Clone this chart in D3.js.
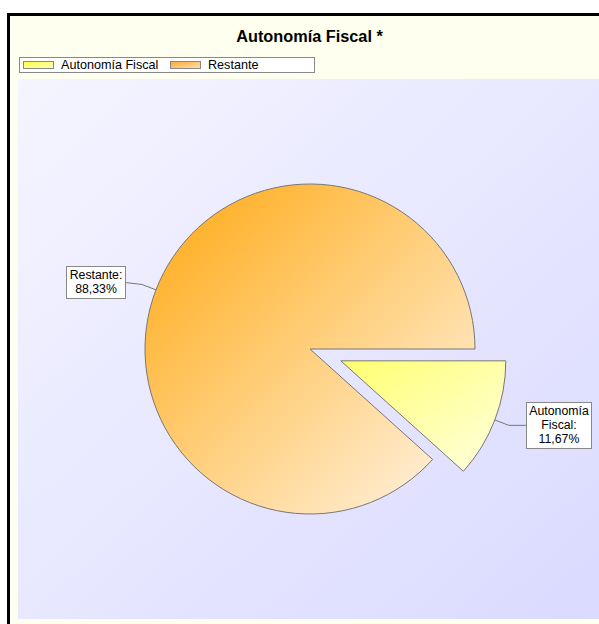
<!DOCTYPE html>
<html>
<head>
<meta charset="utf-8">
<script src="https://cdn.jsdelivr.net/npm/d3@7"></script>
<style>
  body { margin: 0; background: #fff; }
  svg { display: block; font-family: "Liberation Sans", Arial, sans-serif; }
</style>
</head>
<body>
<div id="chart"></div>
<script>
// data
var categories = ['Autonomía Fiscal', 'Restante'];
var values = [11.67, 88.33];
var labelText = ['Autonomía\nFiscal:\n11,67%', 'Restante:\n88,33%'];
var title = 'Autonomía Fiscal *';

var W = 599, H = 624;
var svg = d3.select('#chart').append('svg')
    .attr('width', W)
    .attr('height', H);

var defs = svg.append('defs');

function grad(id, c0, c1) {
    var g = defs.append('linearGradient')
        .attr('id', id)
        .attr('x1', 0).attr('y1', 0)
        .attr('x2', 1).attr('y2', 1);
    g.append('stop').attr('offset', '0%').attr('stop-color', c0);
    g.append('stop').attr('offset', '100%').attr('stop-color', c1);
}
grad('bgGrad', '#f5f5ff', '#dadaff');
grad('g0', '#ffff70', '#ffffe2');
grad('g1', '#ffa810', '#fff6ea');
grad('lg0', '#ffff40', '#ffffc0');
grad('lg1', '#ffa830', '#ffe0b0');

// frame
svg.append('rect')
    .attr('x', 8.5).attr('y', 14.5)
    .attr('width', W + 20).attr('height', H + 20)
    .style('fill', '#fffff0')
    .style('stroke', '#000')
    .style('stroke-width', 3);

// plot area
svg.append('rect')
    .attr('x', 18).attr('y', 79)
    .attr('width', W - 18).attr('height', 540)
    .style('fill', 'url(#bgGrad)');

// title
svg.append('text')
    .attr('x', 309.5).attr('y', 42)
    .attr('text-anchor', 'middle')
    .style('font-size', '16.3px')
    .style('font-weight', 'bold')
    .text(title);

// legend
var legend = svg.append('g');
legend.append('rect')
    .attr('x', 19.5).attr('y', 57.5)
    .attr('width', 295).attr('height', 15)
    .style('fill', '#fff')
    .style('stroke', '#888');
var legX = [23, 170];
categories.forEach(function (c, i) {
    legend.append('rect')
        .attr('x', legX[i] + 0.5).attr('y', 61.5)
        .attr('width', 30).attr('height', 7)
        .style('fill', 'url(#lg' + i + ')')
        .style('stroke', '#888');
    legend.append('text')
        .attr('x', legX[i] + 38).attr('y', 69)
        .style('font-size', '12.6px')
        .text(c);
});

// pie
var cx = 310, cy = 349, r = 165, explode = 33;
var pie = d3.pie().sort(null)
    .startAngle(Math.PI / 2)
    .endAngle(Math.PI / 2 + 2 * Math.PI);
var arcs = pie(values);
var arc = d3.arc().innerRadius(0).outerRadius(r);

var g = svg.append('g').attr('transform', 'translate(' + cx + ',' + cy + ')');

arcs.forEach(function (d, i) {
    var mid = (d.startAngle + d.endAngle) / 2;
    var ux = Math.sin(mid), uy = -Math.cos(mid);
    var off = i === 0 ? explode : 0;
    var ox = ux * off, oy = uy * off;

    g.append('path')
        .attr('d', arc(d))
        .attr('transform', 'translate(' + ox + ',' + oy + ')')
        .style('fill', 'url(#g' + i + ')')
        .style('stroke', '#777')
        .style('stroke-width', 1);

    // leader line
    var p0 = [ox + ux * r, oy + uy * r];
    var p1 = [ox + ux * (r + 15), oy + uy * (r + 15)];
    var dir = ux >= 0 ? 1 : -1;
    var p2 = [p1[0] + dir * 17, p1[1] - (i === 1 ? 2 : 0)];
    g.append('polyline')
        .attr('points', [p0, p1, p2].map(function (p) { return p.join(','); }).join(' '))
        .style('fill', 'none')
        .style('stroke', '#777');

    var lines = labelText[i].split('\n');
    var lh = 14;
    var bw = i === 0 ? 65 : 59;
    var bh = lines.length * lh + 4;
    var bx = dir > 0 ? p2[0] : p2[0] - bw;
    var by = p2[1] - bh / 2;
    g.append('rect')
        .attr('x', Math.round(bx) + 0.5).attr('y', Math.round(by) + 0.5)
        .attr('width', bw).attr('height', bh)
        .style('fill', '#fff')
        .style('stroke', '#888');
    var t = g.append('text')
        .attr('text-anchor', 'middle')
        .style('font-size', '12.3px');
    lines.forEach(function (l, k) {
        t.append('tspan')
            .attr('x', Math.round(bx) + bw / 2 + 0.5)
            .attr('y', Math.round(by) + 13 + k * lh)
            .text(l);
    });
});
</script>
</body>
</html>
